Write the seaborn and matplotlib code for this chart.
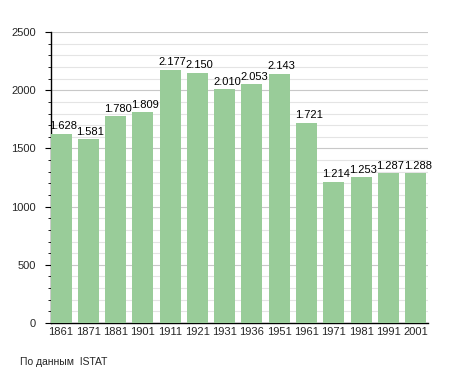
import matplotlib
matplotlib.use("Agg")
import matplotlib.pyplot as plt
import seaborn as sns
import pandas as pd
from matplotlib.ticker import MultipleLocator

years = ["1861", "1871", "1881", "1901", "1911", "1921", "1931", "1936", "1951", "1961", "1971", "1981", "1991", "2001"]
population = [1628, 1581, 1780, 1809, 2177, 2150, 2010, 2053, 2143, 1721, 1214, 1253, 1287, 1288]
labels = ["1.628", "1.581", "1.780", "1.809", "2.177", "2.150", "2.010", "2.053", "2.143", "1.721", "1.214", "1.253", "1.287", "1.288"]

df = pd.DataFrame({"year": years, "pop": population})

sns.set_style("white")
plt.rcParams['font.family'] = ['Liberation Sans', 'DejaVu Sans']

fig = plt.figure(figsize=(4.55, 3.73), dpi=100)
ax = fig.add_axes([0.112, 0.134, 0.829, 0.780])

sns.barplot(data=df, x="year", y="pop", color="#99cc99", saturation=1, width=0.77,
            linewidth=0, ax=ax, zorder=3)

ax.set_ylim(0, 2500)
ax.set_xlim(-0.37, len(years) - 1 + 0.46)
ax.yaxis.set_major_locator(MultipleLocator(500))
ax.yaxis.set_minor_locator(MultipleLocator(100))
ax.grid(which="minor", axis="y", color="#e4e4e4", linewidth=0.8, zorder=0)
ax.grid(which="major", axis="y", color="#c8c8c8", linewidth=0.8, zorder=0)
ax.set_axisbelow(True)

for s in ["top", "right"]:
    ax.spines[s].set_visible(False)
for s in ["left", "bottom"]:
    ax.spines[s].set_color("black")
    ax.spines[s].set_linewidth(1.0)

ax.tick_params(axis="y", which="major", length=4, width=0.8, color="black", labelsize=8, left=True, pad=7)
ax.tick_params(axis="y", which="minor", length=2, width=0.6, color="black", left=True)
ax.tick_params(axis="x", length=0, labelsize=8, pad=3)
ax.set_xlabel("")
ax.set_ylabel("")

for i, (v, lab) in enumerate(zip(population, labels)):
    ax.text(i + 0.08, v + 20, lab, ha="center", va="bottom", fontsize=8, color="black")

fig.text(0.044, 0.03, "По данным  ISTAT", fontsize=7.5, ha="left", va="center")

fig.savefig("out.png", dpi=100)
